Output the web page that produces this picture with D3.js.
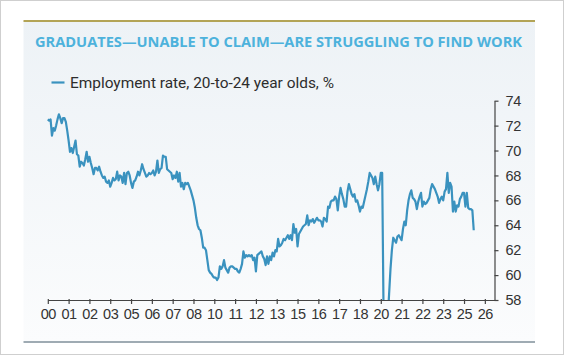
<!DOCTYPE html>
<html>
<head>
<meta charset="utf-8">
<script src="https://cdn.jsdelivr.net/npm/d3@7"></script>
<style>
  html, body { margin: 0; padding: 0; background: #ffffff; }
  svg { display: block; }
</style>
</head>
<body>
<svg id="chart" width="564" height="355"></svg>
<script>
// ---------- DATA ----------
const title = "GRADUATES\u2014UNABLE TO CLAIM\u2014ARE STRUGGLING TO FIND WORK";
const seriesName = "Employment rate, 20-to-24 year olds, %";
const startYear = 2000; // monthly values from Jan 2000
const employmentRate = [
  // 2000
  72.5, 72.4, 72.5, 71.2, 71.8, 71.6, 72.0, 72.5, 72.9, 72.6, 72.2, 72.6,
  // 2001
  72.6, 72.3, 71.6, 70.8, 69.9, 70.2, 69.8, 70.3, 70.8, 69.7, 69.6, 68.7,
  // 2002
  69.1, 69.0, 68.8, 69.3, 69.9, 69.1, 69.5, 69.0, 68.6, 68.1, 68.6, 68.6,
  // 2003
  68.4, 68.7, 68.3, 68.0, 67.8, 67.9, 67.5, 67.4, 67.6, 67.1, 67.4, 67.8,
  // 2004
  67.6, 67.7, 68.3, 67.6, 68.0, 67.9, 67.4, 68.2, 67.3, 68.2, 68.3, 68.0,
  // 2005
  67.4, 67.0, 67.5, 67.6, 67.9, 68.3, 68.0, 68.4, 68.9, 68.5, 68.2, 67.9,
  // 2006
  68.0, 68.2, 68.1, 68.2, 68.4, 68.0, 68.3, 69.2, 68.2, 68.5, 68.6, 69.6,
  // 2007
  69.5, 69.5, 68.5, 68.4, 68.3, 68.2, 67.7, 68.0, 67.8, 68.3, 67.5, 68.2,
  // 2008
  67.1, 67.4, 66.9, 67.4, 67.3, 67.4, 67.1, 66.8, 66.4, 66.0, 65.4, 64.6,
  // 2009
  64.0, 63.7, 63.6, 63.0, 62.2, 62.2, 62.0, 61.2, 60.4, 60.2, 60.1, 59.9,
  // 2010
  59.8, 59.8, 59.6, 59.8, 60.7, 60.5, 60.7, 61.2, 60.6, 60.4, 60.2, 60.6,
  // 2011
  60.7, 60.7, 60.6, 60.5, 60.5, 60.3, 60.2, 60.5, 60.9, 61.9, 61.4, 61.6,
  // 2012
  61.5, 61.6, 61.5, 61.6, 61.2, 61.4, 60.3, 61.6, 61.7, 61.8, 61.9, 61.5,
  // 2013
  61.3, 60.8, 61.5, 60.9, 61.5, 61.2, 61.8, 61.5, 62.0, 61.9, 62.9, 62.3,
  // 2014
  62.4, 62.6, 62.9, 62.8, 63.0, 63.2, 62.9, 63.2, 62.8, 64.1, 63.4, 63.7,
  // 2015
  62.3, 63.3, 63.5, 63.7, 63.9, 64.0, 64.1, 64.8, 64.0, 64.4, 64.3, 64.5,
  // 2016
  64.2, 64.4, 64.6, 64.4, 64.4, 64.3, 63.9, 64.6, 64.5, 64.3, 65.5, 65.4,
  // 2017
  65.9, 66.0, 66.0, 66.3, 66.1, 65.2, 66.3, 67.0, 66.5, 66.1, 65.5, 65.5,
  // 2018
  66.7, 67.3, 66.9, 66.5, 66.3, 66.5, 65.9, 66.0, 65.6, 65.1, 65.5, 65.4,
  // 2019
  65.9, 66.4, 66.9, 67.5, 68.2, 68.0, 67.8, 67.3, 67.9, 67.3, 66.8, 67.3,
  // 2020
  68.2, 68.2, 57.0, 54.0, 54.0, 56.5, 58.5, 60.5, 62.0, 63.0, 62.8, 62.6,
  // 2021
  63.1, 63.2, 63.0, 62.8, 63.7, 64.3, 64.0, 65.2, 66.0, 66.5, 66.8, 66.2,
  // 2022
  66.1, 65.9, 65.3, 65.9, 66.3, 66.6, 65.5, 65.9, 65.7, 65.8, 66.0, 66.2,
  // 2023
  66.9, 67.3, 67.1, 66.9, 66.6, 66.3, 65.8, 66.1, 66.3, 66.0, 66.7, 66.9,
  // 2024
  68.2, 66.6, 67.4, 67.1, 65.1, 65.9, 65.1, 65.6, 65.5, 66.1, 66.3, 66.6,
  // 2025
  66.6, 65.5, 66.6, 65.4, 65.3, 65.3, 65.2, 63.6
];
// x ticks every 15 months, labelled with the year
const xTickDates = [2000, 2001.25, 2002.5, 2003.75, 2005, 2006.25, 2007.5, 2008.75,
  2010, 2011.25, 2012.5, 2013.75, 2015, 2016.25, 2017.5, 2018.75,
  2020, 2021.25, 2022.5, 2023.75, 2025, 2026.25];
const xTickLabels = ["00","01","02","03","05","06","07","08","10","11","12","13",
  "15","16","17","18","20","21","22","23","25","26"];
const yTicks = [58, 60, 62, 64, 66, 68, 70, 72, 74];
const xDomain = [2000, 2026.83];
const yDomain = [58, 74];

// ---------- DRAW ----------
const svg = d3.select("#chart");
const W = 564, H = 355;

const defs = svg.append("defs");
const grad = defs.append("linearGradient").attr("id", "bg").attr("x1", 0).attr("y1", 0).attr("x2", 0).attr("y2", 1);
grad.append("stop").attr("offset", "0%").attr("stop-color", "#edf2f6");
grad.append("stop").attr("offset", "100%").attr("stop-color", "#fbfcfd");

// outer border
svg.append("rect").attr("x", 0.5).attr("y", 0.5).attr("width", W - 1).attr("height", H - 1)
  .attr("fill", "#ffffff").attr("stroke", "#cfcfcf");

// panel
svg.append("rect").attr("x", 23.5).attr("y", 21).attr("width", 511.5).attr("height", 321)
  .attr("fill", "url(#bg)");
svg.append("line").attr("x1", 23.5).attr("x2", 535).attr("y1", 21).attr("y2", 21)
  .attr("stroke", "#b3a456").attr("stroke-width", 2);
svg.append("line").attr("x1", 23.5).attr("x2", 535).attr("y1", 342).attr("y2", 342)
  .attr("stroke", "#9fabb3").attr("stroke-width", 2);

// title
svg.append("text").attr("x", 35).attr("y", 47)
  .attr("font-family", "'Open Sans', 'DejaVu Sans', sans-serif")
  .attr("font-weight", 700).attr("font-size", 14.5)
  .attr("fill", "#4db2dc")
  .attr("textLength", 487).attr("lengthAdjust", "spacingAndGlyphs")
  .text(title);

const lineColor = "#3a92bf";

// legend
svg.append("line").attr("x1", 51.5).attr("x2", 64.5).attr("y1", 82.5).attr("y2", 82.5)
  .attr("stroke", lineColor).attr("stroke-width", 2.2);
svg.append("text").attr("x", 70).attr("y", 87.5)
  .attr("font-family", "Roboto, 'Open Sans', sans-serif")
  .attr("font-size", 14).attr("fill", "#2d2d2d")
  .attr("textLength", 264).attr("lengthAdjust", "spacingAndGlyphs")
  .text(seriesName);

// scales
const x = d3.scaleLinear().domain(xDomain).range([47.8, 494.5]);
const y = d3.scaleLinear().domain(yDomain).range([300, 100.7]);

// clip
defs.append("clipPath").attr("id", "plotclip").append("rect")
  .attr("x", 40).attr("y", 90).attr("width", 455).attr("height", 210);

const tickFont = "'Liberation Sans', Arial, sans-serif";

// x axis
const xAxis = d3.axisBottom(x).tickValues(xTickDates)
  .tickFormat((d, i) => xTickLabels[i]).tickSize(4).tickSizeOuter(0).tickPadding(5);
const gx = svg.append("g").attr("transform", "translate(0,300)").call(xAxis);
gx.select(".domain").attr("stroke", "#444").attr("stroke-width", 1.2);
gx.selectAll(".tick line").attr("stroke", "#444").attr("stroke-width", 1.2).attr("y1", -1);
gx.selectAll(".tick text").attr("font-family", tickFont).attr("font-size", 14.5)
  .attr("fill", "#333").attr("letter-spacing", -0.4);

// y axis (right)
const yAxis = d3.axisRight(y).tickValues(yTicks).tickSize(4).tickSizeOuter(0).tickPadding(7);
const gy = svg.append("g").attr("transform", "translate(494.5,0)").call(yAxis);
gy.select(".domain").attr("stroke", "#444").attr("stroke-width", 1.2);
gy.selectAll(".tick line").attr("stroke", "#444").attr("stroke-width", 1.2);
gy.selectAll(".tick text").attr("font-family", tickFont).attr("font-size", 14.5)
  .attr("fill", "#333").attr("letter-spacing", -0.4);

// line
const line = d3.line()
  .x((d, i) => x(startYear + i / 12))
  .y(d => y(d));
svg.append("path").datum(employmentRate)
  .attr("clip-path", "url(#plotclip)")
  .attr("fill", "none").attr("stroke", lineColor)
  .attr("stroke-width", 2.2).attr("stroke-linejoin", "round")
  .attr("d", line);
</script>
</body>
</html>
